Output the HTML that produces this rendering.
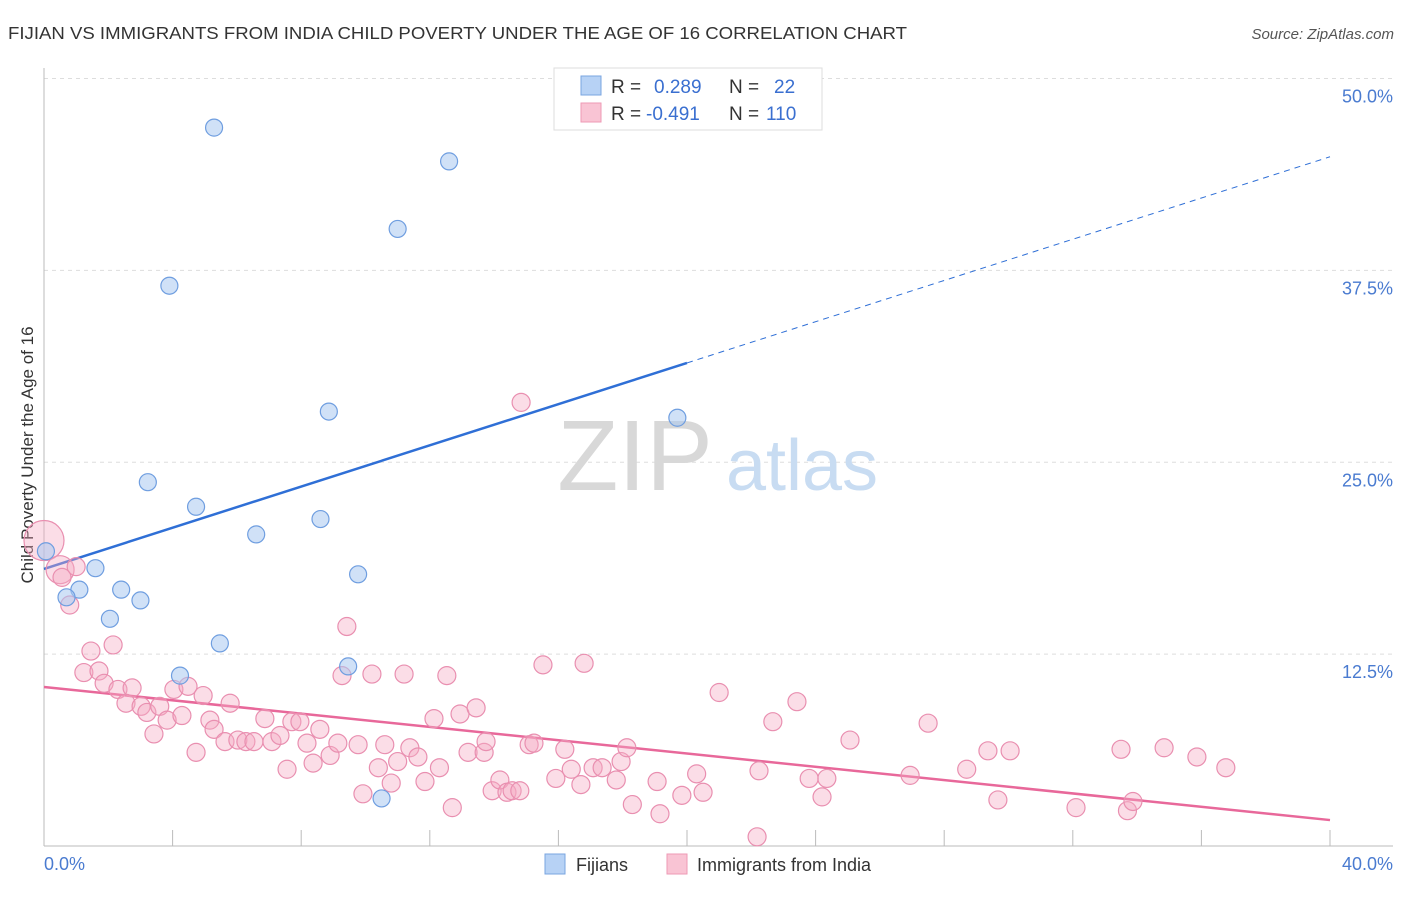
<!DOCTYPE html>
<html><head><meta charset="utf-8">
<style>
body{margin:0;background:#fff;font-family:"Liberation Sans",sans-serif;}
svg text{font-family:"Liberation Sans",sans-serif;}
</style></head>
<body>
<svg id="chart" width="1406" height="892" viewBox="0 0 1406 892" xmlns="http://www.w3.org/2000/svg">
<text x="8" y="39" font-size="17.5" fill="#333" textLength="899" lengthAdjust="spacingAndGlyphs">FIJIAN VS IMMIGRANTS FROM INDIA CHILD POVERTY UNDER THE AGE OF 16 CORRELATION CHART</text>
<text x="1394" y="39" font-size="15" fill="#555" font-style="italic" text-anchor="end">Source: ZipAtlas.com</text>
<text transform="translate(33,455) rotate(-90)" font-size="17" fill="#333" text-anchor="middle">Child Poverty Under the Age of 16</text>
<g id="grid"></g>
<g id="watermark">
<text x="635" y="490" font-size="100" fill="#d8d8d8" font-family="Liberation Serif" text-anchor="middle">ZIP</text>
<text x="802" y="490" font-size="72" fill="#c8dcf2" text-anchor="middle">atlas</text>
</g>
<line x1="44" y1="68" x2="44" y2="846" stroke="#bbb"/>
<line x1="44" y1="846" x2="1393" y2="846" stroke="#bbb"/>
<g id="xticks"></g>
<text x="44" y="870" font-size="18" fill="#4a7bd0">0.0%</text>
<text x="1393" y="870" font-size="18" fill="#4a7bd0" text-anchor="end">40.0%</text>
<g id="lines"></g>
<g id="pinkpts"></g>
<g id="bluepts"></g>
<g>
<rect x="554" y="68" width="268" height="62" fill="#fff" stroke="#ddd"/>
<rect x="581" y="76" width="20" height="19" fill="#b7d2f5" stroke="#7aa5e0"/>
<rect x="581" y="103" width="20" height="19" fill="#f9c4d4" stroke="#ee9ab5"/>
<text x="611" y="93" font-size="19" fill="#333">R =</text>
<text x="654" y="93" font-size="19" fill="#3a6fd0">0.289</text>
<text x="729" y="93" font-size="19" fill="#333">N =</text>
<text x="774" y="93" font-size="19" fill="#3a6fd0">22</text>
<text x="611" y="120" font-size="19" fill="#333">R =</text>
<text x="646" y="120" font-size="19" fill="#3a6fd0">-0.491</text>
<text x="729" y="120" font-size="19" fill="#333">N =</text>
<text x="766" y="120" font-size="19" fill="#3a6fd0">110</text>
</g>
<g>
<rect x="545" y="854" width="20" height="20" fill="#b7d2f5" stroke="#7aa5e0"/>
<text x="576" y="871" font-size="18" fill="#333">Fijians</text>
<rect x="667" y="854" width="20" height="20" fill="#f9c4d4" stroke="#ee9ab5"/>
<text x="697" y="871" font-size="18" fill="#333">Immigrants from India</text>
</g>
</svg>
<script>
const yTicks=[12.5,25,37.5,50];
const yTickLabels=["12.5%","25.0%","37.5%","50.0%"];
const xTicks=[0,4,8,12,16,20,24,28,32,36,40];
const blueX=[5.29,12.6,11.0,3.9,8.86,19.7,3.23,4.73,8.6,6.6,0.06,1.6,9.77,1.1,2.4,3.0,0.7,2.05,5.47,4.23,9.46,10.5];
const blueY=[46.8,44.6,40.2,36.5,28.3,27.9,23.7,22.1,21.3,20.3,19.2,18.1,17.7,16.7,16.7,16.0,16.2,14.8,13.2,11.1,11.7,3.1];
const pinkX=[0,0.5,1.0,0.56,0.8,1.46,1.24,1.71,2.15,1.87,2.3,2.74,2.55,3.02,3.2,3.6,3.42,3.83,4.04,4.29,4.48,4.73,4.95,5.16,5.29,5.79,5.63,6.03,6.28,6.53,6.87,7.09,7.34,7.56,7.71,7.96,8.18,8.37,8.58,8.9,9.14,9.27,9.42,9.77,9.92,10.2,10.4,10.6,10.8,11.0,11.2,11.38,11.63,11.85,12.13,12.3,12.53,12.7,12.94,13.19,13.44,13.69,13.75,13.94,14.18,14.4,14.56,14.8,14.84,15.09,15.24,15.52,15.92,16.2,16.4,16.7,16.8,17.08,17.36,17.8,17.95,18.13,18.3,19.07,19.16,19.84,20.3,20.5,21.0,22.18,22.24,22.67,23.42,23.8,24.2,24.35,25.07,26.94,27.5,28.7,29.36,29.67,30.05,32.1,33.5,33.7,33.87,34.84,35.86,36.76];
const pinkY=[19.9,18.0,18.2,17.5,15.7,12.7,11.3,11.4,13.1,10.6,10.2,10.3,9.3,9.1,8.7,9.1,7.3,8.2,10.2,8.5,10.4,6.1,9.8,8.2,7.6,9.3,6.8,6.9,6.8,6.8,8.3,6.8,7.2,5.0,8.1,8.1,6.7,5.4,7.6,5.9,6.7,11.1,14.3,6.6,3.4,11.2,5.1,6.6,4.1,5.5,11.2,6.4,5.8,4.2,8.3,5.1,11.1,2.5,8.6,6.1,9.0,6.1,6.8,3.6,4.3,3.5,3.6,3.6,28.9,6.6,6.7,11.8,4.4,6.3,5.0,4.0,11.9,5.1,5.1,4.3,5.5,6.4,2.7,4.2,2.1,3.3,4.7,3.5,10.0,0.6,4.9,8.1,9.4,4.4,3.2,4.4,6.9,4.6,8.0,5.0,6.2,3.0,6.2,2.5,6.3,2.3,2.9,6.4,5.8,5.1];
const blueLine=[18.05,31.47,44.9];
const pinkLine=[10.36,1.69];
const NS="http://www.w3.org/2000/svg";
const xs=v=>44+v*32.15;
const ys=v=>846-v*15.35;
function mk(tag,attrs,parent){const e=document.createElementNS(NS,tag);for(const k in attrs)e.setAttribute(k,attrs[k]);document.getElementById(parent).appendChild(e);return e;}
yTicks.forEach((t,i)=>{
 const l=mk('line',{x1:44,x2:1393,y1:ys(t),y2:ys(t),stroke:'#ddd','stroke-dasharray':'4,4'},'grid');
 
 
 const tx=mk('text',{x:1393,y:ys(t)+24,'font-size':18,fill:'#4a7bd0','text-anchor':'end'},'grid');
 tx.textContent=yTickLabels[i];
 
 
});
xTicks.forEach(t=>{
 const l=mk('line',{x1:xs(t),x2:xs(t),y1:830,y2:846,stroke:'#bbb'},'xticks');
 
 
});
let l1=mk('line',{x1:xs(0),y1:ys(blueLine[0]),x2:xs(20),y2:ys(blueLine[1]),stroke:'#2f6fd6','stroke-width':2.5},'lines');


let l2=mk('line',{x1:xs(20),y1:ys(blueLine[1]),x2:xs(40),y2:ys(blueLine[2]),stroke:'#2f6fd6','stroke-width':1,'stroke-dasharray':'6,5'},'lines');


let l3=mk('line',{x1:xs(0),y1:ys(pinkLine[0]),x2:xs(40),y2:ys(pinkLine[1]),stroke:'#e8689a','stroke-width':2.5},'lines');


pinkX.forEach((v,i)=>{
 const r=i===0?20:(i===1?14:9);
 const c=mk('circle',{cx:xs(v),cy:ys(pinkY[i]),r:r,fill:'rgba(246,170,196,0.4)',stroke:'#e98fb0','stroke-width':1.2},'pinkpts');
 
 
});
blueX.forEach((v,i)=>{
 const c=mk('circle',{cx:xs(v),cy:ys(blueY[i]),r:8.5,fill:'rgba(170,200,240,0.55)',stroke:'#6f9ee0','stroke-width':1.2},'bluepts');
 
 
});
</script>
</body></html>
